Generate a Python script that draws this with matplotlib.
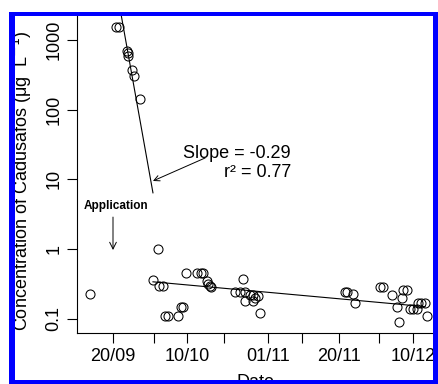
import matplotlib
matplotlib.use("Agg")
import matplotlib.pyplot as plt
from matplotlib.patches import Rectangle
from matplotlib.ticker import NullLocator
import numpy as np

plt.rcParams['font.family'] = ['Liberation Sans', 'DejaVu Sans']

# days after 20/09
day = [-6.2, 0.8, 1.6, 3.9, 4.0, 4.1, 5.1, 5.6, 7.2,
       10.9, 12.2, 12.5, 13.6, 14.0, 15.0, 17.6, 18.3, 19.0,
       19.6, 22.6, 23.8, 24.4, 25.3, 25.6, 26.2, 26.5,
       33.0, 34.3, 35.2, 35.7, 35.7, 37.0, 37.9, 37.9, 38.4, 39.3, 39.7,
       62.7, 63.2, 64.8, 65.4,
       72.2, 72.9, 75.3, 76.7, 77.4, 78.0, 78.5, 79.4, 80.3, 81.2, 82.1,
       82.5, 83.2, 84.3, 85.0]
conc = [0.23, 1550, 1550, 695, 644, 596, 372, 308, 142,
        0.36, 1.0, 0.30, 0.30, 0.11, 0.11, 0.11, 0.15, 0.15,
        0.45, 0.45, 0.45, 0.45, 0.35, 0.32, 0.30, 0.29,
        0.245, 0.245, 0.37, 0.245, 0.18, 0.22, 0.22, 0.18, 0.20, 0.21, 0.12,
        0.24, 0.24, 0.23, 0.17,
        0.29, 0.29, 0.22, 0.15, 0.09, 0.20, 0.26, 0.26, 0.14, 0.14, 0.14,
        0.17, 0.17, 0.17, 0.11]

# fitted log10 lines: log10(c) = a + b*day
fit1_a, fit1_b, fit1_range = 4.015, -0.297, (0.0, 10.8)
fit2_a, fit2_b, fit2_range = -0.417, -0.00484, (10.8, 84.3)

tick_days = [0, 11, 20, 30, 42, 51, 61, 72, 81]
tick_labels = ['20/09', '', '10/10', '', '01/11', '', '20/11', '', '10/12']
y_ticks = [0.1, 1, 10, 100, 1000]
y_labels = ['0.1', '1', '10', '100', '1000']

W, H = 438, 384
fig = plt.figure(figsize=(W / 100, H / 100), dpi=100)


def px_box(x0, y0, x1, y1):
    # pixel box (from top-left) -> figure fraction [left, bottom, width, height]
    return [x0 / W, 1 - y1 / H, (x1 - x0) / W, (y1 - y0) / H]


ax = fig.add_axes(px_box(77, 8, 436, 333))
ax.set_yscale('log')
ax.set_xlim(-9.73, 87.3)
ax.set_ylim(10 ** (-1.2037), 10 ** 3.459)

ax.plot(day, conc, 'o', mfc='none', mec='black', ms=6.5, mew=0.75, clip_on=False)
for a, b, (d0, d1) in [(fit1_a, fit1_b, fit1_range), (fit2_a, fit2_b, fit2_range)]:
    xx = np.array([d0, d1])
    ax.plot(xx, 10 ** (a + b * xx), color='black', lw=0.8)

ax.set_yticks(y_ticks)
ax.set_yticklabels(y_labels)
ax.yaxis.set_minor_locator(NullLocator())
ax.set_xticks(tick_days)
ax.set_xticklabels(tick_labels)
ax.tick_params(axis='both', direction='out', length=7, width=0.8, pad=3.5,
               labelsize=13)
ax.tick_params(axis='y', labelrotation=90)
for lab in ax.get_yticklabels():
    lab.set_va('center')
for s in ['top', 'right']:
    ax.spines[s].set_visible(False)
for s in ['left', 'bottom']:
    ax.spines[s].set_linewidth(0.8)

# annotations
ax.text(48.1, 20.3, 'Slope = -0.29', ha='right', va='baseline', fontsize=13)
ax.text(48.1, 10.8, 'r\u00b2 = 0.77', ha='right', va='baseline', fontsize=13)
ax.annotate('', xy=(10.8, 9.5), xytext=(24.9, 20.3),
            arrowprops=dict(arrowstyle='->', lw=0.7, color='black',
                            mutation_scale=10, shrinkA=0, shrinkB=0))
ax.text(0.9, 3.76, 'Application', ha='center', va='baseline', fontsize=8.5,
        fontweight='bold')
ax.annotate('', xy=(0, 0.97), xytext=(0, 2.88),
            arrowprops=dict(arrowstyle='->', lw=0.7, color='black',
                            mutation_scale=12, shrinkA=0, shrinkB=0))

fig.text(22 / W, 1 - 331 / H, 'Concentration of Cadusafos (\u03bcg  L$^{-1}$)',
         rotation=90, ha='center', va='bottom', fontsize=13)
fig.text(256 / W, 1 - 374 / H, 'Date', ha='center', va='top', fontsize=13)

# white margins and blue frame
for box, col in [((0, 0, 9, H), 'white'), ((0, 0, W, 12), 'white'),
                 ((9, 12, 15, H), 'blue'), ((9, 12, W, 16), 'blue'),
                 ((433, 12, W, H), 'blue'), ((9, 380, W, H), 'blue')]:
    l, b, w, h = px_box(*box)
    fig.add_artist(Rectangle((l, b), w, h, transform=fig.transFigure,
                             facecolor=col, edgecolor='none', zorder=50))

fig.savefig('out.png', dpi=100)
